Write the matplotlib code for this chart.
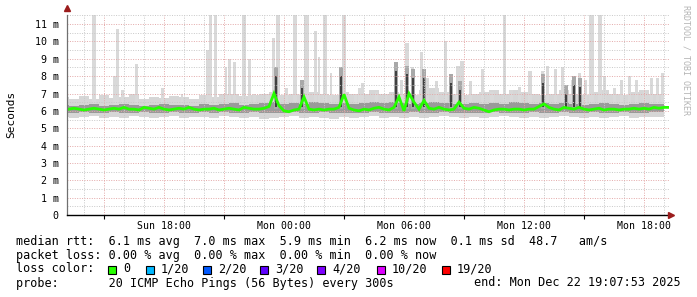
import numpy as np
import matplotlib
matplotlib.use("Agg")
import matplotlib.pyplot as plt
from matplotlib.patches import Rectangle

W, H = 697, 297
MONO = "DejaVu Sans Mono"

# time axis: hours relative to Sun 18:00
x_start, x_end = -4.85, 25.25

# median rtt (ms), 15 minute steps from -4.75 h
median_rtt = [
    6.10, 6.15, 6.10, 6.05, 6.10, 6.15, 6.10, 6.05, 6.10, 6.15,
    6.10, 6.20, 6.10, 6.10, 6.05, 6.20, 6.15, 6.10, 6.20, 6.10,
    6.05, 6.10, 6.15, 6.10, 6.20, 6.10, 6.05, 6.10, 6.10, 6.15,
    6.05, 6.10, 6.15, 6.10, 6.05, 6.20, 6.15, 6.10, 6.10, 6.15,
    6.25, 7.00, 6.30, 6.00, 5.95, 6.05, 6.10, 6.80, 6.10, 6.05,
    6.10, 6.05, 6.10, 6.10, 6.20, 6.95, 6.15, 6.05, 6.00, 6.10,
    6.05, 6.15, 6.20, 6.10, 6.05, 6.20, 6.80, 6.00, 7.00, 6.50,
    6.10, 6.60, 6.15, 6.10, 6.20, 6.10, 6.05, 6.10, 6.50, 6.15,
    6.10, 6.20, 6.15, 6.05, 5.95, 6.05, 6.10, 6.10, 6.05, 6.10,
    6.10, 6.05, 6.10, 6.10, 6.25, 6.40, 6.20, 6.10, 6.05, 6.20,
    6.15, 6.10, 6.20, 6.10, 6.05, 6.10, 6.15, 6.05, 6.10, 6.10,
    6.05, 6.10, 6.10, 6.15, 6.10, 6.15, 6.10, 6.20, 6.15, 6.20,
    6.20,
]

# baseline smoke (ms), 30 minute steps from -5 h
smoke_min = [
    5.65, 5.60, 5.65, 5.70, 5.60, 5.65, 5.60, 5.70, 5.65, 5.60,
    5.65, 5.70, 5.60, 5.65, 5.65, 5.60, 5.70, 5.65, 5.60, 5.65,
    5.55, 5.60, 5.65, 5.70, 5.60, 5.65, 5.60, 5.55, 5.65, 5.60,
    5.65, 5.70, 5.60, 5.65, 5.60, 5.65, 5.60, 5.65, 5.70, 5.65,
    5.60, 5.65, 5.60, 5.65, 5.70, 5.65, 5.60, 5.65, 5.60, 5.65,
    5.70, 5.65, 5.60, 5.65, 5.60, 5.65, 5.70, 5.60, 5.65, 5.65,
    5.65,
]
smoke_q1 = [
    5.90, 5.90, 5.95, 5.90, 5.90, 5.95, 5.90, 5.90, 5.95, 5.90,
    5.90, 5.95, 5.90, 5.90, 5.95, 5.90, 5.95, 5.90, 5.90, 5.95,
    5.85, 5.85, 5.90, 5.95, 5.90, 5.90, 5.95, 5.85, 5.90, 5.90,
    5.90, 5.95, 5.90, 5.90, 5.90, 5.95, 5.90, 5.90, 5.95, 5.90,
    5.90, 5.90, 5.90, 5.95, 5.90, 5.90, 5.90, 5.95, 5.90, 5.90,
    5.95, 5.90, 5.90, 5.95, 5.90, 5.90, 5.95, 5.90, 5.90, 5.95,
    5.95,
]
smoke_q3 = [
    6.35, 6.30, 6.35, 6.40, 6.30, 6.35, 6.40, 6.35, 6.30, 6.35,
    6.40, 6.35, 6.35, 6.30, 6.40, 6.35, 6.40, 6.45, 6.35, 6.40,
    6.45, 6.50, 6.40, 6.45, 6.40, 6.50, 6.45, 6.40, 6.45, 6.40,
    6.45, 6.50, 6.45, 6.50, 6.45, 6.40, 6.45, 6.50, 6.45, 6.40,
    6.40, 6.45, 6.40, 6.45, 6.40, 6.50, 6.45, 6.40, 6.45, 6.40,
    6.45, 6.40, 6.35, 6.40, 6.45, 6.40, 6.35, 6.40, 6.45, 6.40,
    6.40,
]
smoke_max = [
    6.80, 6.70, 6.85, 6.70, 6.90, 6.75, 6.80, 6.95, 6.70, 6.80,
    6.75, 6.85, 6.80, 6.70, 6.90, 6.80, 6.95, 7.00, 6.85, 6.90,
    7.00, 7.10, 6.90, 7.00, 6.90, 7.10, 7.00, 6.90, 7.10, 7.00,
    7.00, 7.20, 7.00, 7.10, 7.00, 6.90, 7.20, 7.30, 7.10, 7.00,
    6.90, 7.00, 7.10, 7.20, 7.00, 7.20, 7.10, 7.00, 6.90, 7.00,
    7.20, 7.00, 6.90, 7.10, 7.20, 7.00, 6.90, 7.10, 7.20, 7.00,
    7.00,
]

# single tall max-ping columns: position (px on the time axis), width (px), top (ms)
spike_px = [94, 115, 118, 122, 137, 163, 182, 208, 211, 216, 226, 230, 235, 244,
            250, 255, 268, 274, 278, 287, 295, 307, 316, 319, 325, 331, 344,
            356, 360, 363, 377, 386, 396, 402, 407, 413, 422, 428, 437, 446,
            451, 458, 462, 471, 483, 492, 505, 512, 520, 530, 543, 548, 556,
            563, 573, 580, 586, 592, 600, 605, 615, 622, 630, 637, 645, 652,
            658, 663]
spike_w = [4, 4, 3, 3, 3, 3, 2, 3, 3, 3, 2, 3, 3, 4,
           3, 3, 3, 3, 4, 3, 4, 5, 3, 2, 4, 2, 4,
           3, 3, 3, 3, 3, 4, 3, 4, 3, 3, 3, 3, 3,
           2, 4, 4, 3, 3, 4, 3, 3, 3, 4, 3, 3, 3,
           3, 3, 3, 3, 5, 4, 3, 3, 3, 3, 3, 3, 3,
           3, 3]
spike_top = [11.5, 8.0, 10.7, 7.2, 8.7, 7.3, 7.0, 9.5, 11.5, 11.5, 8.5, 9.0, 8.8, 11.5,
             9.0, 7.0, 6.9, 10.2, 11.5, 7.3, 11.5, 11.5, 10.6, 9.1, 11.5, 8.2, 11.5,
             7.0, 7.3, 7.6, 7.1, 7.0, 8.4, 7.8, 9.9, 8.5, 9.4, 7.9, 7.7, 10.0,
             8.0, 8.6, 8.9, 7.7, 8.4, 7.1, 11.5, 7.2, 7.4, 8.3, 8.3, 8.6, 8.4,
             8.5, 7.8, 8.2, 7.8, 11.5, 11.5, 8.0, 7.3, 7.8, 8.0, 7.8, 7.2, 7.9,
             7.9, 8.2]

# dark smoke columns (bulk of pings high): position (px), top (ms)
dark_px = [276, 302, 341, 396, 407, 413, 424, 451, 460, 543, 566, 574, 580]
dark_top = [8.0, 7.3, 8.0, 8.3, 8.1, 7.9, 7.9, 7.6, 7.2, 7.6, 7.0, 7.5, 7.4]

loss_labels = ["0", "1/20", "2/20", "3/20", "4/20", "10/20", "19/20"]
loss_colors = ["#26ff00", "#00b8ff", "#0059ff", "#5e00ff", "#7e00ff", "#dd00ff", "#ff0000"]
loss_px = [108, 146, 203, 260, 317, 377, 442]

ytick_vals = list(range(12))
ytick_labels = ["0"] + [f"{v} m" for v in range(1, 12)]
xtick_hours = [0, 6, 12, 18, 24]
xtick_labels = ["Sun 18:00", "Mon 00:00", "Mon 06:00", "Mon 12:00", "Mon 18:00"]

legend_lines = [
    "median rtt:  6.1 ms avg  7.0 ms max  5.9 ms min  6.2 ms now  0.1 ms sd  48.7   am/s",
    "packet loss: 0.00 % avg  0.00 % max  0.00 % min  0.00 % now",
]


def px_to_hour(px):
    return (px - 164) / 20.0


fig = plt.figure(figsize=(W / 100, H / 100), dpi=100)
fig.patch.set_facecolor("white")
ax_left, ax_right, ax_top, ax_bottom = 67, 669, 15.4, 215
ax = fig.add_axes([ax_left / W, 1 - ax_bottom / H, (ax_right - ax_left) / W, (ax_bottom - ax_top) / H])
ax.set_xlim(x_start, x_end)
ax.set_ylim(0, 11.5)

# baseline smoke
t30 = -5 + 0.5 * np.arange(len(smoke_min))
ax.fill_between(t30, smoke_min, smoke_max, step="mid", color="#d6d6d6", lw=0, zorder=1)
ax.fill_between(t30, smoke_q1, smoke_q3, step="mid", color="#9a9a9a", lw=0, zorder=2)

# tall light columns
sh = [px_to_hour(p) for p in spike_px]
ax.bar(sh, np.array(spike_top) - 6.0, bottom=6.0, width=np.array(spike_w) / 20.0,
       color="#d9d9d9", lw=0, zorder=1)

# dark columns
dh = [px_to_hour(p) for p in dark_px]
ax.bar(dh, np.array(dark_top) + 0.5 - 6.1, bottom=6.1, width=4 / 20.0, color="#a8a8a8", lw=0, zorder=2)
ax.bar(dh, np.array(dark_top) - 6.2, bottom=6.2, width=2 / 20.0, color="#404040", lw=0, zorder=2)

# grid on top of smoke
for h in np.arange(-4, 26, 1):
    c = "#e3a8a8" if h % 3 == 0 else "#c8c8c8"
    ax.axvline(h, color=c, lw=0.7, ls=(0, (1, 1.5)), zorder=3)
for v in np.arange(0.5, 11.6, 0.5):
    c = "#e3a8a8" if v % 1 == 0 else "#c8c8c8"
    ax.axhline(v, color=c, lw=0.7, ls=(0, (1, 1.5)), zorder=3)

# median
t15 = -4.75 + 0.25 * np.arange(len(median_rtt))
ax.plot(t15, median_rtt, color="#26ff00", lw=2.0, zorder=5, solid_joinstyle="miter")

for s in ["top", "right"]:
    ax.spines[s].set_visible(False)
ax.spines["left"].set_color("#707070")
ax.spines["left"].set_linewidth(0.9)
ax.spines["bottom"].set_color("black")
ax.spines["bottom"].set_linewidth(1.0)
ax.spines["left"].set_zorder(6)
ax.spines["bottom"].set_zorder(6)

ax.set_yticks(ytick_vals)
ax.set_yticklabels(ytick_labels, fontfamily=MONO, fontsize=7.2)
ax.tick_params(axis="y", length=0, pad=6)
ax.set_xticks(xtick_hours)
ax.set_xticklabels(xtick_labels, fontfamily=MONO, fontsize=7.1)
ax.set_xticks(np.arange(-3, 26, 3), minor=True)
ax.tick_params(axis="x", which="major", length=0, pad=4)
ax.tick_params(axis="x", which="minor", length=3, width=0.8, direction="out")

# arrows at axis ends
ax.plot([x_start], [11.9], marker="^", color="#9b1c1c", ms=4, clip_on=False, zorder=7)
ax.plot([x_end + 0.08], [0], marker=">", color="#9b1c1c", ms=4, clip_on=False, zorder=7)

fig.text(11 / W, 1 - 114 / H, "Seconds", rotation=90, ha="center", va="center",
         fontfamily=MONO, fontsize=8)
fig.text(686 / W, 1 - 5 / H, "RRDTOOL / TOBI OETIKER", rotation=-90, ha="center", va="top",
         fontfamily=MONO, fontsize=6, color="#b4b4b4")

# legend block
fs = 8.45
fig.text(16 / W, 1 - 241 / H, legend_lines[0], fontfamily=MONO, fontsize=fs, va="center")
fig.text(16 / W, 1 - 255 / H, legend_lines[1], fontfamily=MONO, fontsize=fs, va="center")
fig.text(16 / W, 1 - 269 / H, "loss color:", fontfamily=MONO, fontsize=fs, va="center")
for lbl, col, px in zip(loss_labels, loss_colors, loss_px):
    fig.patches.append(Rectangle((px / W, 1 - 273.5 / H), 8 / W, 8 / H, transform=fig.transFigure,
                                 facecolor=col, edgecolor="black", lw=0.8))
    fig.text((px + 15) / W, 1 - 269 / H, lbl, fontfamily=MONO, fontsize=fs, va="center")
fig.text(16 / W, 1 - 283 / H, "probe:       20 ICMP Echo Pings (56 Bytes) every 300s",
         fontfamily=MONO, fontsize=fs, va="center")
fig.text(681 / W, 1 - 283 / H, "end: Mon Dec 22 19:07:53 2025",
         fontfamily=MONO, fontsize=fs, va="center", ha="right")

fig.savefig("out.png", dpi=100, facecolor="white")
